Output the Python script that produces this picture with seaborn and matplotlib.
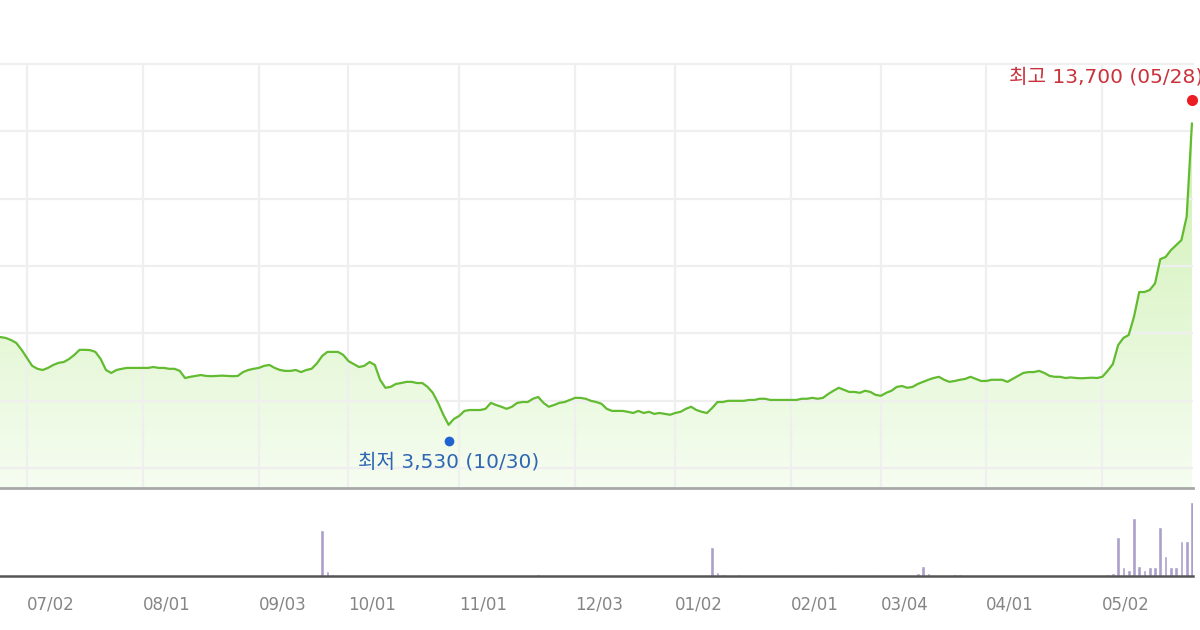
import numpy as np
import pandas as pd
import matplotlib
matplotlib.use("Agg")
import matplotlib.pyplot as plt
import matplotlib.transforms as mtransforms
from matplotlib.colors import LinearSegmentedColormap
import seaborn as sns

# KRX trading calendar for the window shown (weekends + exchange holidays removed)
start_date = "2018-06-21"
end_date = "2019-05-28"
krx_holidays = ["2018-08-15", "2018-09-24", "2018-09-25", "2018-09-26", "2018-10-03",
                "2018-10-09", "2018-12-25", "2018-12-31", "2019-01-01", "2019-02-04",
                "2019-02-05", "2019-02-06", "2019-03-01", "2019-05-01", "2019-05-06"]

# daily close (won), one list per month
close_jun = [6530, 6490, 6490, 6460, 6390, 6290, 6060]
close_jul = [5790, 5520, 5420, 5380, 5450, 5550, 5620, 5650, 5750, 5890, 6060,
             6060, 6050, 5990, 5750, 5380, 5280, 5380, 5420, 5450, 5450, 5450]
close_aug = [5450, 5450, 5480, 5450, 5450, 5420, 5420, 5350, 5110, 5150, 5180,
             5210, 5180, 5170, 5180, 5190, 5180, 5170, 5180, 5310, 5380, 5420]
close_sep = [5450, 5520, 5550, 5450, 5380, 5350, 5350, 5380, 5310, 5380, 5420,
             5600, 5850, 5990, 5990, 5990, 5890]
close_oct = [5680, 5580, 5480, 5520, 5650, 5550, 5050, 4780, 4810, 4910, 4940,
             4980, 4980, 4940, 4940, 4810, 4610, 4270, 3870, 3530, 3730]
close_nov = [3830, 4000, 4030, 4030, 4030, 4070, 4270, 4200, 4140, 4070, 4140,
             4270, 4300, 4300, 4410, 4470, 4270, 4140, 4200, 4270, 4300, 4370]
close_dec = [4440, 4440, 4410, 4340, 4300, 4240, 4070, 4000, 4000, 4000, 3970,
             3930, 4000, 3930, 3970, 3900, 3930, 3900, 3870]
close_jan = [3930, 3970, 4070, 4140, 4030, 3970, 3930, 4100, 4300, 4300, 4340,
             4340, 4340, 4340, 4370, 4370, 4410, 4410, 4370, 4370, 4370, 4370]
close_feb = [4370, 4370, 4410, 4410, 4440, 4410, 4440, 4570, 4680, 4780, 4710,
             4640, 4640, 4610, 4680, 4640, 4540]
close_mar = [4510, 4610, 4680, 4810, 4840, 4780, 4810, 4910, 4980, 5050, 5110,
             5150, 5050, 4980, 5010, 5050, 5080, 5150, 5080, 5010]
close_apr = [5010, 5050, 5050, 5050, 4980, 5080, 5180, 5280, 5310, 5310, 5350,
             5280, 5180, 5150, 5150, 5110, 5130, 5110, 5100, 5110, 5120, 5110]
close_may = [5150, 5350, 5580, 6220, 6460, 6560, 7170, 8010, 8010, 8080, 8300,
             9120, 9190, 9420, 9590, 9760, 10550, 13700]

# volume (thousand shares) on the days where a bar is visible
vol_dates = ["2018-09-19", "2018-09-20", "2018-09-21", "2018-09-27", "2018-11-22",
             "2019-01-11", "2019-01-14", "2019-01-15", "2019-01-18", "2019-02-14",
             "2019-02-18", "2019-02-28", "2019-03-07", "2019-03-13", "2019-03-14",
             "2019-03-15", "2019-03-22", "2019-03-25", "2019-05-02", "2019-05-03",
             "2019-05-07", "2019-05-08", "2019-05-09", "2019-05-10", "2019-05-13",
             "2019-05-14", "2019-05-15", "2019-05-16", "2019-05-17", "2019-05-20",
             "2019-05-21", "2019-05-22", "2019-05-23", "2019-05-24", "2019-05-27",
             "2019-05-28"]
vol_kshares = [4600, 500, 200, 150, 250, 2900, 400, 200, 200, 150, 150, 150, 150, 300,
               1000, 300, 200, 200, 150, 250, 300, 3900, 900, 600, 5800, 1000, 600,
               900, 900, 4900, 2000, 900, 900, 3500, 3500, 7400]

tick_dates = ["2018-07-02", "2018-08-01", "2018-09-03", "2018-10-01", "2018-11-01",
              "2018-12-03", "2019-01-02", "2019-02-01", "2019-03-04", "2019-04-01",
              "2019-05-02"]
tick_labels = ["07/02", "08/01", "09/03", "10/01", "11/01", "12/03",
               "01/02", "02/01", "03/04", "04/01", "05/02"]

close_won = (close_jun + close_jul + close_aug + close_sep + close_oct + close_nov
             + close_dec + close_jan + close_feb + close_mar + close_apr + close_may)

days = pd.bdate_range(start_date, end_date)
days = days[~days.isin(pd.to_datetime(krx_holidays))]
df = pd.DataFrame({"date": days, "close": close_won})
df["pos"] = np.arange(len(df))
pos_of = dict(zip(df["date"], df["pos"]))

vol = pd.DataFrame({"date": pd.to_datetime(vol_dates), "kshares": vol_kshares})
vol["pos"] = vol["date"].map(pos_of)
tick_pos = [pos_of[pd.Timestamp(d)] for d in tick_dates]

sns.set_style("white")
# DejaVu first for the wide digits, Noto CJK picks up the hangul
plt.rcParams["font.family"] = ["DejaVu Sans", "Noto Sans CJK KR"]

W, H = 1200, 630
fig = plt.figure(figsize=(W / 100, H / 100), dpi=100)
ax = fig.add_axes([0, 1 - 488 / H, 1193 / W, (488 - 64) / H])
axv = fig.add_axes([0, 1 - 576 / H, 1193 / W, (576 - 490) / H])

xlims = (1.9, 228.2)
ylims = (1400, 15700)

# gradient area under the price line
cmap = LinearSegmentedColormap.from_list("fill", ["#f6fdf1", "#c8eea9"])
grad = np.linspace(0, 1, 256).reshape(-1, 1)
im = ax.imshow(grad, cmap=cmap, aspect="auto", origin="lower",
               extent=[xlims[0], xlims[1], ylims[0], ylims[1]], zorder=0.2)
poly = ax.fill_between(df["pos"], df["close"], ylims[0], color="none", lw=0)
im.set_clip_path(poly.get_paths()[0], transform=ax.transData)

sns.lineplot(data=df, x="pos", y="close", ax=ax, color="#62bb30", lw=1.6, zorder=3)

ax.set_xlim(*xlims)
ax.set_ylim(*ylims)
ax.set_xticks(tick_pos)
ax.set_yticks(np.arange(2080, 15700, 2270))
ax.grid(True, color="#efefef", lw=1.6)
ax.set_axisbelow(True)
ax.tick_params(length=0, labelbottom=False, labelleft=False)
ax.set_xlabel("")
ax.set_ylabel("")
ax.spines[["left", "right"]].set_visible(False)
ax.spines["top"].set_color("#efefef")
ax.spines["top"].set_linewidth(1.6)
ax.spines["bottom"].set_color("#a8a8a8")
ax.spines["bottom"].set_linewidth(2)

# low / high markers and labels
lo = df.loc[df["close"].idxmin()]
hi = df.loc[df["close"].idxmax()]
lo_tr = mtransforms.offset_copy(ax.transData, fig=fig, y=-11.5, units="points")
hi_tr = mtransforms.offset_copy(ax.transData, fig=fig, y=16.5, units="points")
ax.plot(lo["pos"], lo["close"], "o", color="#1f63d0", ms=7, mec="none",
        transform=lo_tr, zorder=5, clip_on=False)
ax.plot(hi["pos"], hi["close"], "o", color="#ec1c24", ms=8, mec="none",
        transform=hi_tr, zorder=5, clip_on=False)
ax.annotate(f"최저 {int(lo['close']):,} ({lo['date']:%m/%d})", (lo["pos"], lo["close"]),
            xytext=(0, -27), textcoords="offset points", ha="center", va="center",
            color="#2f66b3", fontsize=14.5)
ax.annotate(f"최고 {int(hi['close']):,} ({hi['date']:%m/%d})", (hi["pos"], hi["close"]),
            xytext=(8, 33), textcoords="offset points", ha="right", va="center",
            color="#c9333b", fontsize=14.5)

# volume panel
sns.barplot(data=vol, x="pos", y="kshares", native_scale=True, width=0.7,
            color="#ab9fcc", saturation=1, errorbar=None, ax=axv)
axv.set_xlim(*xlims)
axv.set_ylim(0, 8600)
axv.set_yticks([])
axv.set_xticks(tick_pos, tick_labels)
for lab in axv.get_xticklabels():
    lab.set_horizontalalignment("left")
axv.tick_params(axis="x", length=7, width=1.5, color="#c8c8c8", labelsize=12,
                labelcolor="#858585", pad=7)
axv.set_xlabel("")
axv.set_ylabel("")
axv.spines[["left", "right", "top"]].set_visible(False)
axv.spines["bottom"].set_color("#555555")
axv.spines["bottom"].set_linewidth(1.8)

fig.savefig("out.png", dpi=100)
